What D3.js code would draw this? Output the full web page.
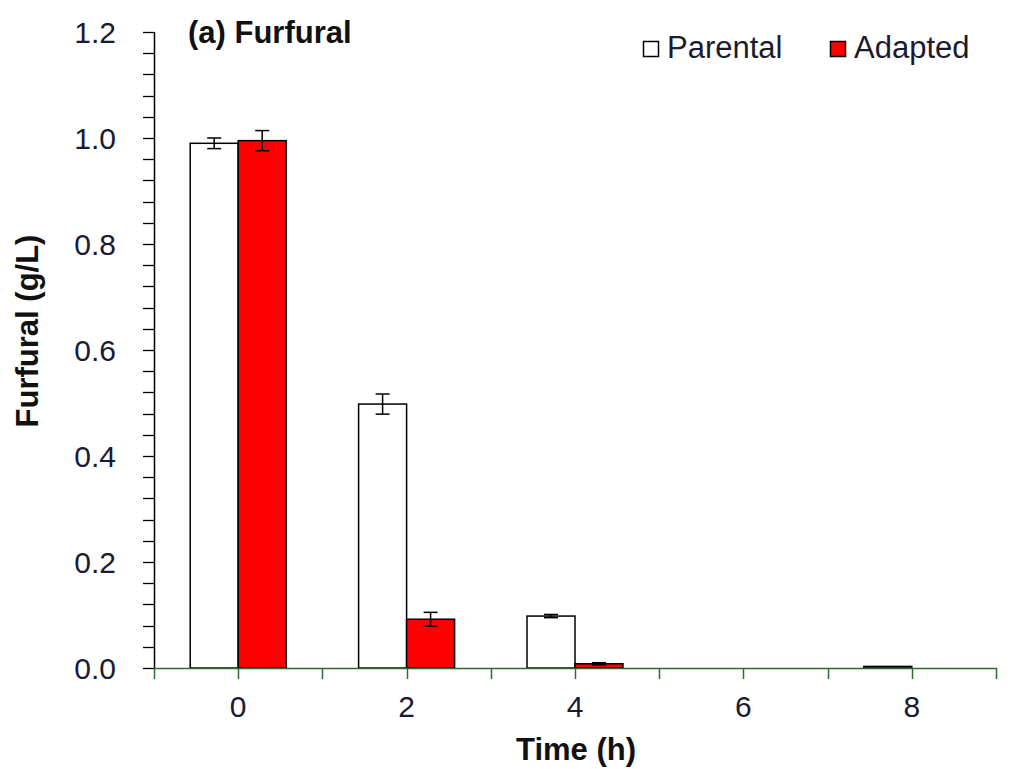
<!DOCTYPE html>
<html><head><meta charset="utf-8">
<script src="https://cdn.jsdelivr.net/npm/d3@7"></script>
<style>body{margin:0;background:#fff}svg{display:block}text{font-family:"Liberation Sans",Arial,sans-serif}</style>
</head><body><svg id="c" width="1019" height="769"></svg>
<script>
const categories = ["0","2","4","6","8"];
const seriesNames = ["Parental","Adapted"];
const parental = [0.99, 0.498, 0.098, 0, 0.003];
const adapted = [0.995, 0.092, 0.008, 0, 0];
const parentalErr = [0.01, 0.019, 0.003, 0, 0];
const adaptedErr = [0.019, 0.013, 0.002, 0, 0];
const yTicks = [0,0.2,0.4,0.6,0.8,1.0,1.2];
const colors = ["#ffffff","#ff0000"];

const svg = d3.select("#c");
const L=154, R=996, T=32, B=668;
const x = d3.scaleBand().domain(categories).range([L,R]).paddingInner(0.43).paddingOuter(0.215);
const xs = d3.scaleBand().domain(seriesNames).range([0,x.bandwidth()]);
const y = d3.scaleLinear().domain([0,1.2]).range([B,T]);
const series=[{name:"Parental",vals:parental,err:parentalErr,color:colors[0]},{name:"Adapted",vals:adapted,err:adaptedErr,color:colors[1]}];
const txtCol="#1a1a30";

// y axis
const minor = d3.range(0,1.2001,0.04);
svg.append("g").selectAll("line").data(minor).join("line")
  .attr("x1",L-11).attr("x2",L).attr("y1",d=>Math.round(y(d))+0.5).attr("y2",d=>Math.round(y(d))+0.5)
  .attr("stroke","#000").attr("stroke-width",1.3);
svg.append("line").attr("x1",L+0.5).attr("x2",L+0.5).attr("y1",T).attr("y2",B).attr("stroke","#000").attr("stroke-width",1.5);
svg.append("g").selectAll("text").data(yTicks).join("text")
  .attr("x",116).attr("y",d=>y(d)+11).attr("text-anchor","end").attr("font-size",30).attr("fill",txtCol)
  .text(d=>d3.format(".1f")(d));

// bars
series.forEach(s=>{
  const g=svg.append("g");
  g.selectAll("rect").data(categories).join("rect")
    .attr("x",(c)=>x(c)+xs(s.name)).attr("width",xs.bandwidth())
    .attr("y",(c,i)=>y(s.vals[i])).attr("height",(c,i)=>B-y(s.vals[i]))
    .attr("fill",s.color).attr("stroke","#000").attr("stroke-width",1.5);
  const cx=(c)=>x(c)+xs(s.name)+xs.bandwidth()/2;
  const eg=g.append("g");
  categories.forEach((c,i)=>{
    if(s.vals[i]<=0||s.err[i]<=0) return;
    const X=cx(c), y1=y(s.vals[i]+s.err[i]), y2=y(s.vals[i]-s.err[i]);
    eg.append("line").attr("x1",X).attr("x2",X).attr("y1",y1).attr("y2",y2).attr("stroke","#000").attr("stroke-width",1.5);
    [y1,y2].forEach(yy=>eg.append("line").attr("x1",X-7).attr("x2",X+7).attr("y1",yy).attr("y2",yy).attr("stroke","#000").attr("stroke-width",1.5));
  });
});

// x axis
const xTickPos=[];
categories.forEach(c=>{xTickPos.push(x(c)-x.step()*x.paddingInner()/2); xTickPos.push(x(c)+x.bandwidth()/2);});
xTickPos.push(R);
svg.append("g").selectAll("line").data(xTickPos).join("line")
  .attr("x1",d=>Math.round(d)+0.5).attr("x2",d=>Math.round(d)+0.5).attr("y1",B).attr("y2",B+11)
  .attr("stroke","#2f6b2f").attr("stroke-width",1.5);
svg.append("line").attr("x1",L).attr("x2",R+1).attr("y1",B+0.5).attr("y2",B+0.5).attr("stroke","#2f6b2f").attr("stroke-width",1.5);
svg.append("g").selectAll("text").data(categories).join("text")
  .attr("x",c=>x(c)+x.bandwidth()/2).attr("y",717).attr("text-anchor","middle").attr("font-size",30).attr("fill",txtCol).text(c=>c);

// titles
svg.append("text").attr("x",576).attr("y",760).attr("text-anchor","middle").attr("font-size",31).attr("font-weight","bold").attr("fill","#111").text("Time (h)");
svg.append("text").attr("transform","translate(38,331) rotate(-90)").attr("text-anchor","middle").attr("font-size",31).attr("font-weight","bold").attr("fill","#111").text("Furfural (g/L)");
svg.append("text").attr("x",188).attr("y",43).attr("font-size",31).attr("font-weight","bold").attr("fill","#111").text("(a) Furfural");

// legend
const legX=[643,830];
series.forEach((s,i)=>{
  svg.append("rect").attr("x",legX[i]+0.5).attr("y",41.5).attr("width",15).attr("height",15).attr("fill",s.color).attr("stroke","#000").attr("stroke-width",1.5);
  svg.append("text").attr("x",legX[i]+24).attr("y",58).attr("font-size",31).attr("fill",txtCol).text(s.name);
});
</script></body></html>
